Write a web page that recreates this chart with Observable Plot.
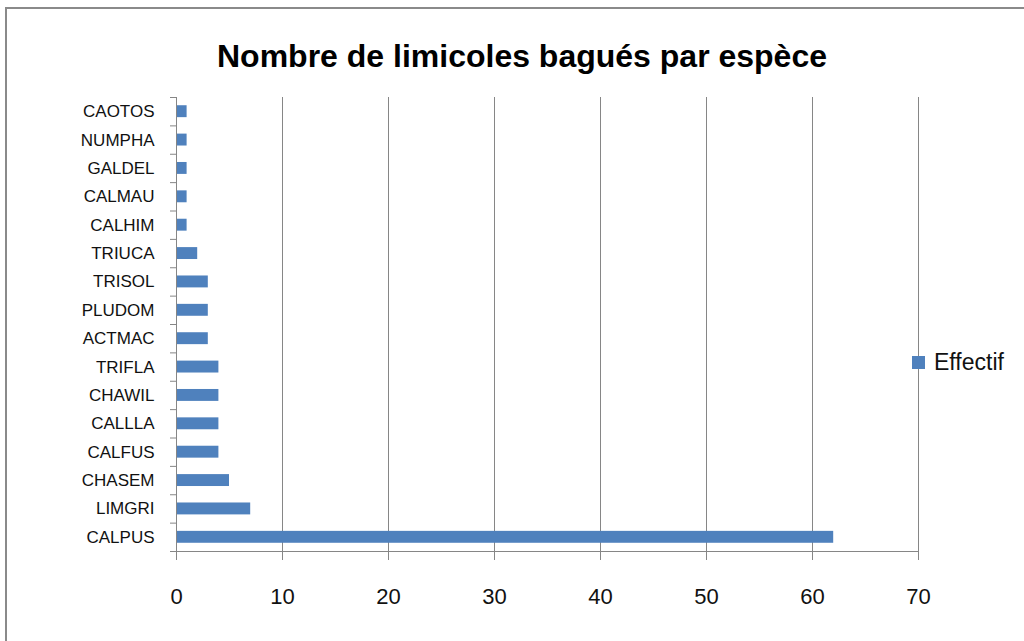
<!DOCTYPE html>
<html>
<head>
<meta charset="utf-8">
<script src="https://cdn.jsdelivr.net/npm/d3@7"></script>
<script src="https://cdn.jsdelivr.net/npm/@observablehq/plot@0.6"></script>
<style>
  html, body { margin: 0; padding: 0; background: #fff; }
  #wrap { position: relative; width: 1024px; height: 641px; overflow: hidden; font-family: "Liberation Sans", Arial, sans-serif; }
  #border { position: absolute; left: 5px; top: 7px; width: 1030px; height: 650px; border-top: 2px solid #8a8a8a; border-left: 2px solid #8a8a8a; }
  #title { position: absolute; left: 0; width: 1044px; top: 38px; text-align: center; font-size: 32px; font-weight: bold; color: #000; }
  #legend { position: absolute; left: 912px; top: 349px; display: flex; align-items: center; font-size: 23px; color: #111; }
  #legend .sw { width: 13px; height: 13px; background: #4f81bd; margin-right: 9px; }
  #chart { position: absolute; left: 0; top: 0; }
</style>
</head>
<body>
<div id="wrap">
  <div id="border"></div>
  <div id="chart"></div>
  <div id="title">Nombre de limicoles bagués par espèce</div>
  <div id="legend"><div class="sw"></div><span>Effectif</span></div>
</div>
<script>
const species = ["CAOTOS","NUMPHA","GALDEL","CALMAU","CALHIM","TRIUCA","TRISOL","PLUDOM","ACTMAC","TRIFLA","CHAWIL","CALLLA","CALFUS","CHASEM","LIMGRI","CALPUS"];
const effectif = [1,1,1,1,1,2,3,3,3,4,4,4,4,5,7,62];
const xTicks = [0,10,20,30,40,50,60,70];

const data = species.map((s, i) => ({species: s, value: effectif[i]}));

const W = 1024, H = 641;
const mL = 176, mR = 106, mT = 97, mB = 90;
const band = (H - mT - mB) / species.length;
const tickLen = -6 * 70 / (W - mL - mR);
const gray = "#868686";

const chart = Plot.plot({
  width: W,
  height: H,
  marginLeft: mL,
  marginRight: mR,
  marginTop: mT,
  marginBottom: mB,
  style: {fontFamily: "Liberation Sans, Arial, sans-serif", background: "transparent"},
  x: {domain: [0, 70], ticks: xTicks},
  y: {domain: species, paddingInner: 0.58, paddingOuter: 0.29, round: false},
  marks: [
    Plot.gridX(xTicks.slice(1), {stroke: gray, strokeOpacity: 1, strokeWidth: 1}),
    Plot.barX(data, {x: "value", y: "species", fill: "#4f81bd"}),
    Plot.ruleX([0], {stroke: gray, strokeWidth: 1}),
    Plot.axisX({ticks: xTicks, tickSize: 9, tickPadding: 28, fontSize: 22, stroke: gray, color: "#111", label: null}),
    Plot.axisY({tickSize: 0, tickPadding: 22, fontSize: 17, color: "#111", label: null}),
    Plot.ruleY(species, {y: d => d, x1: tickLen, x2: 0, dy: band / 2, stroke: gray}),
    Plot.ruleY(species.slice(0, 1), {y: d => d, x1: tickLen, x2: 0, dy: -band / 2, stroke: gray}),
    Plot.ruleY(species.slice(-1), {y: d => d, x1: tickLen, x2: 70, dy: band / 2, stroke: gray})
  ]
});
document.getElementById("chart").appendChild(chart);
</script>
</body>
</html>
